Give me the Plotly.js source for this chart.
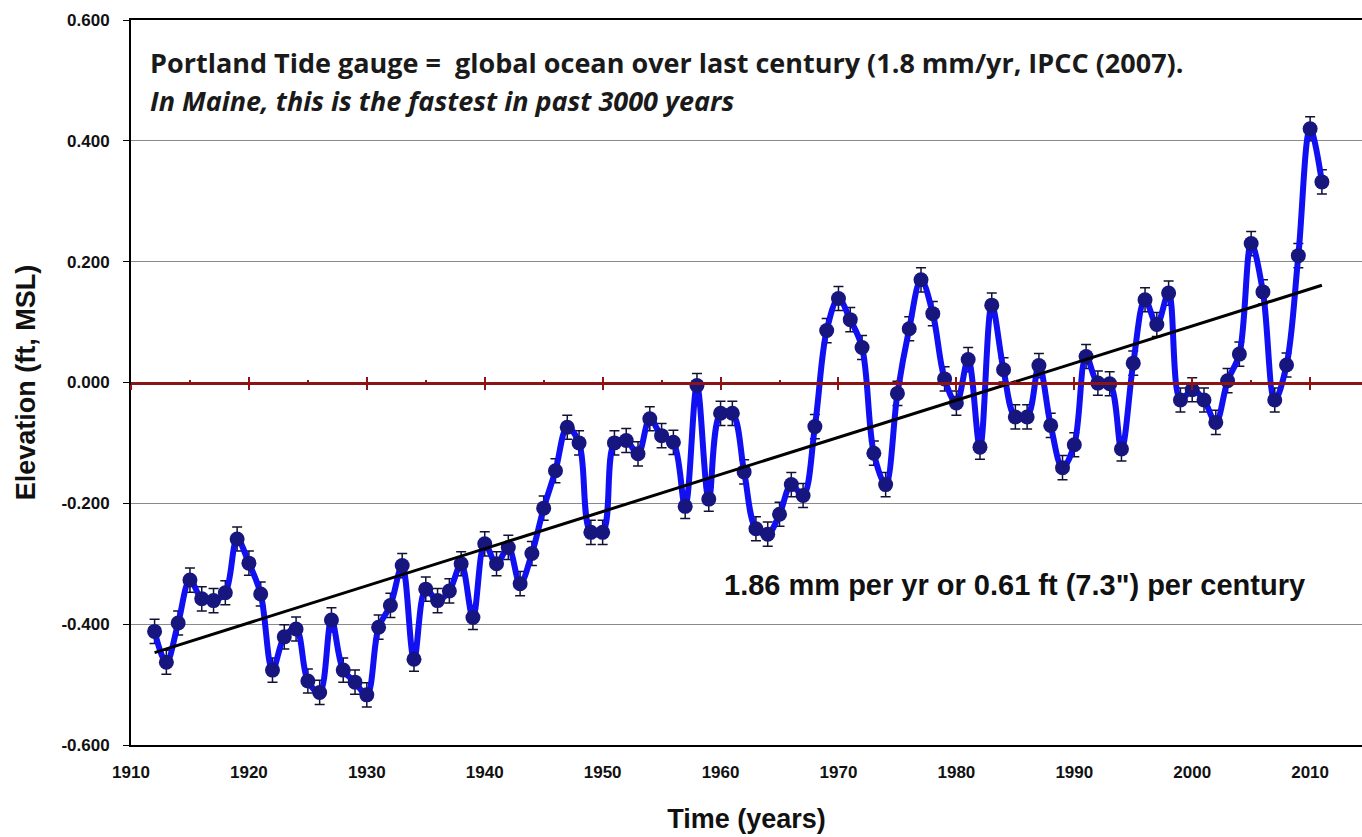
<!DOCTYPE html>
<html>
<head>
<meta charset="utf-8">
<script src="https://cdn.plot.ly/plotly-3.0.1.min.js"></script>
<style>
  html, body { margin: 0; padding: 0; background: #ffffff; }
  #chart { width: 1362px; height: 837px; }
</style>
</head>
<body>
<div id="chart"></div>
<script>
const years = [1912,1913,1914,1915,1916,1917,1918,1919,1920,1921,1922,1923,1924,1925,1926,1927,1928,1929,1930,1931,
  1932,1933,1934,1935,1936,1937,1938,1939,1940,1941,1942,1943,1944,1945,1946,1947,1948,1949,1950,1951,
  1952,1953,1954,1955,1956,1957,1958,1959,1960,1961,1962,1963,1964,1965,1966,1967,1968,1969,1970,1971,
  1972,1973,1974,1975,1976,1977,1978,1979,1980,1981,1982,1983,1984,1985,1986,1987,1988,1989,1990,1991,
  1992,1993,1994,1995,1996,1997,1998,1999,2000,2001,2002,2003,2004,2005,2006,2007,2008,2009,2010,2011];

const elevation = [-0.412,-0.463,-0.398,-0.327,-0.358,-0.361,-0.348,-0.259,-0.299,-0.350,
  -0.476,-0.421,-0.408,-0.494,-0.513,-0.393,-0.476,-0.496,-0.517,-0.405,
  -0.369,-0.303,-0.458,-0.342,-0.361,-0.345,-0.300,-0.389,-0.267,-0.300,
  -0.273,-0.333,-0.283,-0.208,-0.146,-0.074,-0.100,-0.248,-0.248,-0.100,
  -0.096,-0.118,-0.060,-0.088,-0.099,-0.205,-0.005,-0.193,-0.051,-0.051,
  -0.148,-0.242,-0.251,-0.218,-0.169,-0.187,-0.073,0.086,0.139,0.104,
  0.058,-0.117,-0.169,-0.018,0.089,0.170,0.114,0.006,-0.034,0.038,
  -0.107,0.128,0.021,-0.057,-0.057,0.028,-0.071,-0.141,-0.103,0.043,
  -0.001,-0.002,-0.110,0.032,0.137,0.096,0.148,-0.029,-0.012,-0.029,
  -0.066,0.003,0.047,0.230,0.150,-0.029,0.029,0.210,0.420,0.332];

const errorValue = 0.02;

const trendYears = [1912, 2011];
const trendValues = [-0.447, 0.161];

const xTickVals = [1910,1920,1930,1940,1950,1960,1970,1980,1990,2000,2010];
const yTickVals = [-0.6,-0.4,-0.2,0,0.2,0.4,0.6];
const yTickText = ['-0.600','-0.400','-0.200','0.000','0.200','0.400','0.600'];

const titleText = 'Portland Tide gauge =\u00a0 global ocean over last century (1.8 mm/yr, IPCC (2007).';
const subtitleText = 'In Maine, this is the fastest in past 3000 years';
const trendText = '1.86 mm per yr or 0.61 ft (7.3") per century';

const xRange = [1910, 2014.4];
const redAxis = '#8c1414';

const traces = [
  {
    x: years, y: elevation, type: 'scatter', mode: 'lines+markers',
    line: { color: '#1010f2', width: 6, shape: 'spline', smoothing: 1 },
    marker: { color: '#16167e', size: 15 },
    error_y: { type: 'constant', value: errorValue, color: '#111133', thickness: 1.5, width: 5 },
    hoverinfo: 'x+y', showlegend: false
  },
  {
    x: trendYears, y: trendValues, type: 'scatter', mode: 'lines',
    line: { color: '#000000', width: 3 },
    hoverinfo: 'skip', showlegend: false
  },
  {
    x: trendYears, y: trendValues, xaxis: 'x2', type: 'scatter', mode: 'markers',
    marker: { opacity: 0 }, hoverinfo: 'skip', showlegend: false
  },
  {
    x: trendYears, y: trendValues, xaxis: 'x3', type: 'scatter', mode: 'markers',
    marker: { opacity: 0 }, hoverinfo: 'skip', showlegend: false
  }
];

const tickFont = { family: 'Liberation Sans, Arial, sans-serif', size: 17, color: '#111111', weight: 'bold' };

const layout = {
  width: 1362, height: 837,
  margin: { l: 131, r: 0, t: 20, b: 92, pad: 0 },
  paper_bgcolor: '#ffffff', plot_bgcolor: '#ffffff',
  showlegend: false,
  xaxis: {
    range: xRange, tickvals: xTickVals, ticks: '', showgrid: false, zeroline: false,
    showline: true, linecolor: '#000000', linewidth: 2, mirror: true,
    tickfont: tickFont, ticklabelstandoff: 11,
    title: { text: '<b>Time (years)</b>', font: { family: 'Liberation Sans, Arial, sans-serif', size: 27, color: '#111111' }, standoff: 28 },
    automargin: false
  },
  xaxis2: {
    overlaying: 'x', anchor: 'free', position: 0.5, range: xRange,
    showline: true, linecolor: redAxis, linewidth: 3, showgrid: false, zeroline: false,
    ticks: 'outside', ticklen: 5, tickwidth: 2, tickcolor: redAxis, tick0: 1910, dtick: 10,
    showticklabels: false, side: 'bottom'
  },
  xaxis3: {
    overlaying: 'x', anchor: 'free', position: 0.5, range: xRange,
    showline: false, showgrid: false, zeroline: false,
    ticks: 'inside', ticklen: 6, tickwidth: 2, tickcolor: redAxis, tick0: 1910, dtick: 10,
    minor: { ticks: 'inside', ticklen: 3, tickwidth: 2, tickcolor: redAxis, dtick: 5, tick0: 1910 },
    showticklabels: false, side: 'bottom'
  },
  yaxis: {
    range: [-0.6, 0.6], tickvals: yTickVals, ticktext: yTickText,
    ticks: 'outside', ticklen: 6, tickcolor: '#000000', tickwidth: 1,
    showgrid: true, gridcolor: '#8a8a8a', gridwidth: 1, zeroline: false,
    showline: true, linecolor: '#000000', linewidth: 2,
    tickfont: tickFont, ticklabelstandoff: 10,
    title: { text: '<b>Elevation (ft, MSL)</b>', font: { family: 'Liberation Sans, Arial, sans-serif', size: 27, color: '#111111' }, standoff: 18 },
    automargin: false
  },
  annotations: [
    {
      xref: 'paper', yref: 'paper', x: 0.0138, y: 0.942, xanchor: 'left', yanchor: 'middle',
      text: '<b>' + titleText + '</b>', showarrow: false,
      font: { family: 'Open Sans, Lato, sans-serif', size: 27, color: '#1a1a1a' }
    },
    {
      xref: 'paper', yref: 'paper', x: 0.0138, y: 0.889, xanchor: 'left', yanchor: 'middle',
      text: '<b><i>' + subtitleText + '</i></b>', showarrow: false,
      font: { family: 'Open Sans, Lato, sans-serif', size: 27, color: '#1a1a1a' }
    },
    {
      xref: 'paper', yref: 'paper', x: 0.480, y: 0.2207, xanchor: 'left', yanchor: 'middle',
      text: '<b>' + trendText + '</b>', showarrow: false,
      font: { family: 'Liberation Sans, Arial, sans-serif', size: 29, color: '#111111' }
    }
  ]
};

Plotly.newPlot('chart', traces, layout, { displayModeBar: false, responsive: false });
</script>
</body>
</html>
